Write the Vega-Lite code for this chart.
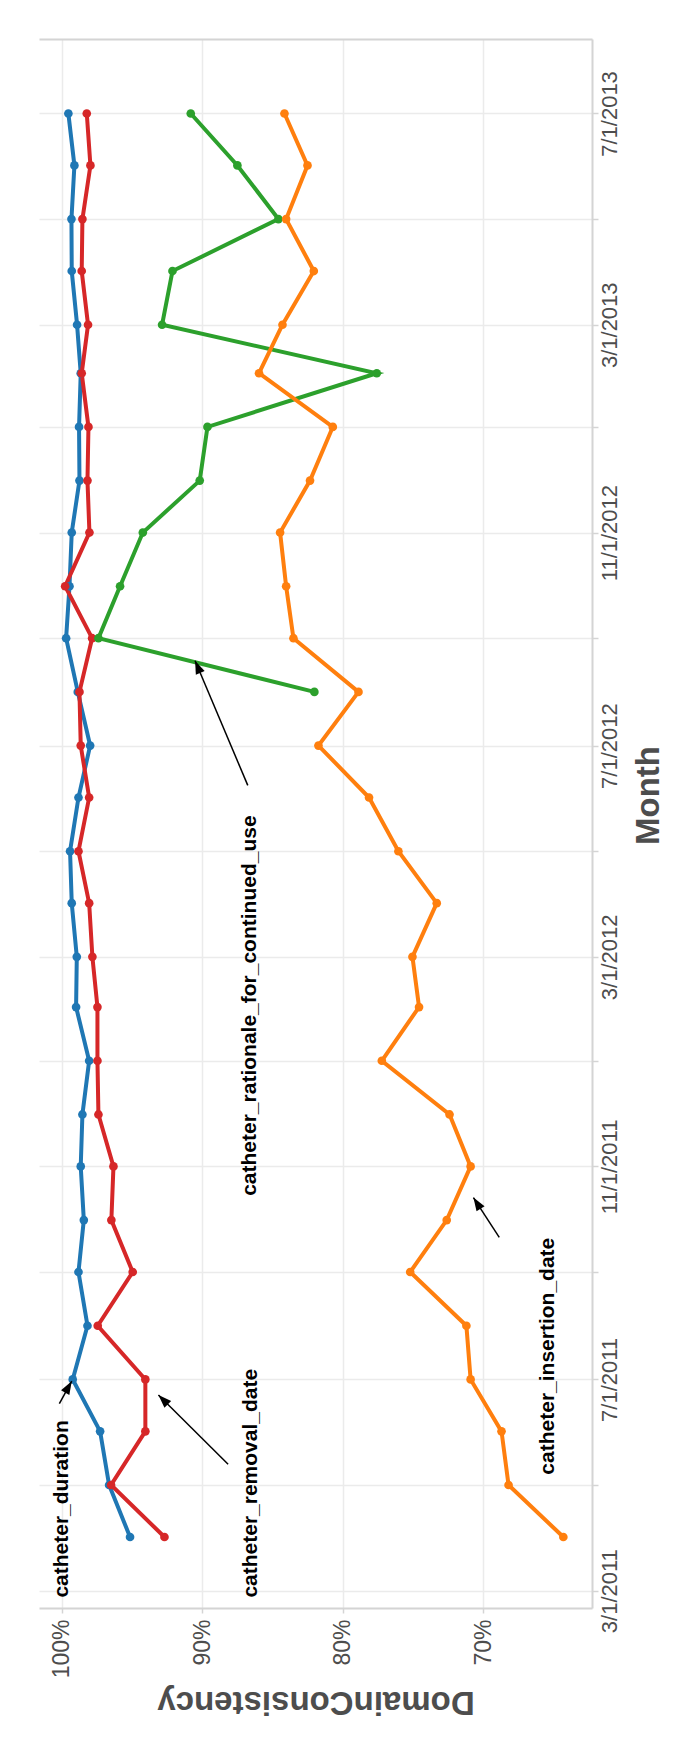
{
  "$schema": "https://vega.github.io/schema/vega-lite/v6.json",
  "width": 553,
  "height": 1569,
  "autosize": {"type": "none"},
  "padding": {"left": 39, "top": 39, "right": 95, "bottom": 154},
  "background": "white",
  "config": {"view": {"stroke": null}, "font": "Liberation Sans"},
  "datasets": {
    "lines": [
      {"series": "catheter_duration", "month": "2011-04-01", "value": 0.9514},
      {"series": "catheter_duration", "month": "2011-05-01", "value": 0.9663},
      {"series": "catheter_duration", "month": "2011-06-01", "value": 0.9727},
      {"series": "catheter_duration", "month": "2011-07-01", "value": 0.9922},
      {"series": "catheter_duration", "month": "2011-08-01", "value": 0.9817},
      {"series": "catheter_duration", "month": "2011-09-01", "value": 0.9881},
      {"series": "catheter_duration", "month": "2011-10-01", "value": 0.9843},
      {"series": "catheter_duration", "month": "2011-11-01", "value": 0.9865},
      {"series": "catheter_duration", "month": "2011-12-01", "value": 0.9853},
      {"series": "catheter_duration", "month": "2012-01-01", "value": 0.9805},
      {"series": "catheter_duration", "month": "2012-02-01", "value": 0.9898},
      {"series": "catheter_duration", "month": "2012-03-01", "value": 0.9893},
      {"series": "catheter_duration", "month": "2012-04-01", "value": 0.9929},
      {"series": "catheter_duration", "month": "2012-05-01", "value": 0.9941},
      {"series": "catheter_duration", "month": "2012-06-01", "value": 0.9881},
      {"series": "catheter_duration", "month": "2012-07-01", "value": 0.9798},
      {"series": "catheter_duration", "month": "2012-08-01", "value": 0.9886},
      {"series": "catheter_duration", "month": "2012-09-01", "value": 0.9969},
      {"series": "catheter_duration", "month": "2012-10-01", "value": 0.9945},
      {"series": "catheter_duration", "month": "2012-11-01", "value": 0.9929},
      {"series": "catheter_duration", "month": "2012-12-01", "value": 0.9874},
      {"series": "catheter_duration", "month": "2013-01-01", "value": 0.9877},
      {"series": "catheter_duration", "month": "2013-02-01", "value": 0.9865},
      {"series": "catheter_duration", "month": "2013-03-01", "value": 0.9891},
      {"series": "catheter_duration", "month": "2013-04-01", "value": 0.9929},
      {"series": "catheter_duration", "month": "2013-05-01", "value": 0.9931},
      {"series": "catheter_duration", "month": "2013-06-01", "value": 0.9910},
      {"series": "catheter_duration", "month": "2013-07-01", "value": 0.9953},
      {"series": "catheter_removal_date", "month": "2011-04-01", "value": 0.9269},
      {"series": "catheter_removal_date", "month": "2011-05-01", "value": 0.9649},
      {"series": "catheter_removal_date", "month": "2011-06-01", "value": 0.9405},
      {"series": "catheter_removal_date", "month": "2011-07-01", "value": 0.9405},
      {"series": "catheter_removal_date", "month": "2011-08-01", "value": 0.9744},
      {"series": "catheter_removal_date", "month": "2011-09-01", "value": 0.9495},
      {"series": "catheter_removal_date", "month": "2011-10-01", "value": 0.9647},
      {"series": "catheter_removal_date", "month": "2011-11-01", "value": 0.9632},
      {"series": "catheter_removal_date", "month": "2011-12-01", "value": 0.9739},
      {"series": "catheter_removal_date", "month": "2012-01-01", "value": 0.9746},
      {"series": "catheter_removal_date", "month": "2012-02-01", "value": 0.9746},
      {"series": "catheter_removal_date", "month": "2012-03-01", "value": 0.9782},
      {"series": "catheter_removal_date", "month": "2012-04-01", "value": 0.9805},
      {"series": "catheter_removal_date", "month": "2012-05-01", "value": 0.9881},
      {"series": "catheter_removal_date", "month": "2012-06-01", "value": 0.9805},
      {"series": "catheter_removal_date", "month": "2012-07-01", "value": 0.9865},
      {"series": "catheter_removal_date", "month": "2012-08-01", "value": 0.9874},
      {"series": "catheter_removal_date", "month": "2012-09-01", "value": 0.9784},
      {"series": "catheter_removal_date", "month": "2012-10-01", "value": 0.9976},
      {"series": "catheter_removal_date", "month": "2012-11-01", "value": 0.9803},
      {"series": "catheter_removal_date", "month": "2012-12-01", "value": 0.9817},
      {"series": "catheter_removal_date", "month": "2013-01-01", "value": 0.9810},
      {"series": "catheter_removal_date", "month": "2013-02-01", "value": 0.9858},
      {"series": "catheter_removal_date", "month": "2013-03-01", "value": 0.9813},
      {"series": "catheter_removal_date", "month": "2013-04-01", "value": 0.9858},
      {"series": "catheter_removal_date", "month": "2013-05-01", "value": 0.9853},
      {"series": "catheter_removal_date", "month": "2013-06-01", "value": 0.9796},
      {"series": "catheter_removal_date", "month": "2013-07-01", "value": 0.9822},
      {"series": "catheter_rationale_for_continued_use", "month": "2012-08-01", "value": 0.8202},
      {"series": "catheter_rationale_for_continued_use", "month": "2012-09-01", "value": 0.9739},
      {"series": "catheter_rationale_for_continued_use", "month": "2012-10-01", "value": 0.9585},
      {"series": "catheter_rationale_for_continued_use", "month": "2012-11-01", "value": 0.9423},
      {"series": "catheter_rationale_for_continued_use", "month": "2012-12-01", "value": 0.9018},
      {"series": "catheter_rationale_for_continued_use", "month": "2013-01-01", "value": 0.8963},
      {"series": "catheter_rationale_for_continued_use", "month": "2013-02-01", "value": 0.7758},
      {"series": "catheter_rationale_for_continued_use", "month": "2013-03-01", "value": 0.9286},
      {"series": "catheter_rationale_for_continued_use", "month": "2013-04-01", "value": 0.9212},
      {"series": "catheter_rationale_for_continued_use", "month": "2013-05-01", "value": 0.8458},
      {"series": "catheter_rationale_for_continued_use", "month": "2013-06-01", "value": 0.8750},
      {"series": "catheter_rationale_for_continued_use", "month": "2013-07-01", "value": 0.9082},
      {"series": "catheter_insertion_date", "month": "2011-04-01", "value": 0.643},
      {"series": "catheter_insertion_date", "month": "2011-05-01", "value": 0.682},
      {"series": "catheter_insertion_date", "month": "2011-06-01", "value": 0.687},
      {"series": "catheter_insertion_date", "month": "2011-07-01", "value": 0.709},
      {"series": "catheter_insertion_date", "month": "2011-08-01", "value": 0.712},
      {"series": "catheter_insertion_date", "month": "2011-09-01", "value": 0.752},
      {"series": "catheter_insertion_date", "month": "2011-10-01", "value": 0.726},
      {"series": "catheter_insertion_date", "month": "2011-11-01", "value": 0.709},
      {"series": "catheter_insertion_date", "month": "2011-12-01", "value": 0.724},
      {"series": "catheter_insertion_date", "month": "2012-01-01", "value": 0.7722},
      {"series": "catheter_insertion_date", "month": "2012-02-01", "value": 0.7457},
      {"series": "catheter_insertion_date", "month": "2012-03-01", "value": 0.7504},
      {"series": "catheter_insertion_date", "month": "2012-04-01", "value": 0.7331},
      {"series": "catheter_insertion_date", "month": "2012-05-01", "value": 0.7604},
      {"series": "catheter_insertion_date", "month": "2012-06-01", "value": 0.7813},
      {"series": "catheter_insertion_date", "month": "2012-07-01", "value": 0.8173},
      {"series": "catheter_insertion_date", "month": "2012-08-01", "value": 0.7888},
      {"series": "catheter_insertion_date", "month": "2012-09-01", "value": 0.8351},
      {"series": "catheter_insertion_date", "month": "2012-10-01", "value": 0.8403},
      {"series": "catheter_insertion_date", "month": "2012-11-01", "value": 0.8446},
      {"series": "catheter_insertion_date", "month": "2012-12-01", "value": 0.8233},
      {"series": "catheter_insertion_date", "month": "2013-01-01", "value": 0.8071},
      {"series": "catheter_insertion_date", "month": "2013-02-01", "value": 0.8596},
      {"series": "catheter_insertion_date", "month": "2013-03-01", "value": 0.8429},
      {"series": "catheter_insertion_date", "month": "2013-04-01", "value": 0.8206},
      {"series": "catheter_insertion_date", "month": "2013-05-01", "value": 0.8403},
      {"series": "catheter_insertion_date", "month": "2013-06-01", "value": 0.8251},
      {"series": "catheter_insertion_date", "month": "2013-07-01", "value": 0.8415}
    ],
    "labels": [
      {"label": "catheter_duration", "month": "2011-02-25", "value": 1.0},
      {"label": "catheter_removal_date", "month": "2011-02-25", "value": 0.8652},
      {"label": "catheter_insertion_date", "month": "2011-05-07", "value": 0.654},
      {"label": "catheter_rationale_for_continued_use", "month": "2011-10-15", "value": 0.8659}
    ],
    "arrows": [
      {"arrow": "duration", "month": "2011-06-17", "value": 1.0017, "month2": "2011-06-30", "value2": 0.9929},
      {"arrow": "removal", "month": "2011-05-13", "value": 0.8816, "month2": "2011-06-22", "value2": 0.9312},
      {"arrow": "insertion", "month": "2011-09-21", "value": 0.6886, "month2": "2011-10-14", "value2": 0.7070},
      {"arrow": "rationale", "month": "2012-06-08", "value": 0.8676, "month2": "2012-08-19", "value2": 0.9051}
    ]
  },
  "resolve": {"axis": {"x": "independent", "y": "independent"}},
  "layer": [
    {
      "data": {"name": "lines"},
      "mark": {"type": "line", "strokeWidth": 4, "point": {"filled": true, "size": 75, "opacity": 1}},
      "encoding": {
        "x": {
          "field": "value", "type": "quantitative",
          "scale": {"domain": [0.6226, 1.0162], "reverse": true, "nice": false, "zero": false},
          "axis": {
            "orient": "bottom", "title": "DomainConsistency", "values": [0.7, 0.8, 0.9, 1.0], "format": ".0%",
            "labelAngle": 270, "labelAlign": "right", "labelBaseline": "middle", "labelFontSize": 23,
            "labelColor": "#4d4d4d", "labelPadding": 6, "tickSize": 5, "tickColor": "#d4d4d4", "tickWidth": 1.5,
            "domainColor": "#d4d4d4", "domainWidth": 2, "gridColor": "#ebebeb", "gridWidth": 1.5,
            "titleAngle": 180, "titleBaseline": "bottom", "titleFontSize": 33, "titleFontWeight": "bold",
            "titleColor": "#4d4d4d", "titlePadding": 7, "labelFlush": false, "labelOverlap": false
          }
        },
        "y": {
          "field": "month", "type": "temporal",
          "scale": {"type": "utc", "nice": false,
            "domain": [{"year": 2011, "month": 2, "date": 19, "utc": true}, {"year": 2013, "month": 8, "date": 13, "utc": true}]},
          "axis": {
            "orient": "right", "title": "Month", "tickCount": {"interval": "month", "step": 2},
            "labelExpr": "utcmonth(datum.value) % 4 == 2 ? utcFormat(datum.value, '%-m/%-d/%Y') : ''",
            "labelAngle": 270, "labelAlign": "center", "labelBaseline": "top", "labelFontSize": 22,
            "labelColor": "#4d4d4d", "labelPadding": 1, "tickSize": 6, "tickColor": "#d4d4d4", "tickWidth": 1.5,
            "domainColor": "#d4d4d4", "domainWidth": 2, "gridColor": "#ebebeb", "gridWidth": 1.5,
            "titleAngle": 270, "titleBaseline": "top", "titleFontSize": 33, "titleFontWeight": "bold",
            "titleColor": "#4d4d4d", "titlePadding": 12, "titleY": 756, "labelFlush": false, "labelOverlap": false
          }
        },
        "color": {
          "field": "series", "type": "nominal", "legend": null,
          "scale": {
            "domain": ["catheter_duration", "catheter_insertion_date", "catheter_rationale_for_continued_use", "catheter_removal_date"],
            "range": ["#1f77b4", "#ff7f0e", "#2ca02c", "#d62728"]
          }
        },
        "order": {"field": "month", "type": "temporal"}
      }
    },
    {
      "data": {"name": "arrows"},
      "mark": {"type": "rule", "color": "black", "strokeWidth": 1.5},
      "encoding": {
        "x": {"field": "value", "type": "quantitative", "axis": null},
        "x2": {"field": "value2"},
        "y": {"field": "month", "type": "temporal", "axis": null},
        "y2": {"field": "month2"}
      }
    },
    {
      "data": {"name": "arrows"},
      "transform": [{"filter": "datum.arrow == 'duration'"}],
      "mark": {"type": "point", "shape": "M0,0L0.36,1L-0.36,1Z", "size": 700, "filled": true, "color": "black", "strokeWidth": 0, "opacity": 1, "angle": 29.7},
      "encoding": {
        "x": {"field": "value2", "type": "quantitative", "axis": null},
        "y": {"field": "month2", "type": "temporal", "axis": null}
      }
    },
    {
      "data": {"name": "arrows"},
      "transform": [{"filter": "datum.arrow == 'removal'"}],
      "mark": {"type": "point", "shape": "M0,0L0.36,1L-0.36,1Z", "size": 700, "filled": true, "color": "black", "strokeWidth": 0, "opacity": 1, "angle": 314.8},
      "encoding": {
        "x": {"field": "value2", "type": "quantitative", "axis": null},
        "y": {"field": "month2", "type": "temporal", "axis": null}
      }
    },
    {
      "data": {"name": "arrows"},
      "transform": [{"filter": "datum.arrow == 'insertion'"}],
      "mark": {"type": "point", "shape": "M0,0L0.36,1L-0.36,1Z", "size": 700, "filled": true, "color": "black", "strokeWidth": 0, "opacity": 1, "angle": 327.4},
      "encoding": {
        "x": {"field": "value2", "type": "quantitative", "axis": null},
        "y": {"field": "month2", "type": "temporal", "axis": null}
      }
    },
    {
      "data": {"name": "arrows"},
      "transform": [{"filter": "datum.arrow == 'rationale'"}],
      "mark": {"type": "point", "shape": "M0,0L0.36,1L-0.36,1Z", "size": 700, "filled": true, "color": "black", "strokeWidth": 0, "opacity": 1, "angle": 337.1},
      "encoding": {
        "x": {"field": "value2", "type": "quantitative", "axis": null},
        "y": {"field": "month2", "type": "temporal", "axis": null}
      }
    },
    {
      "data": {"name": "labels"},
      "mark": {"type": "text", "angle": 270, "align": "left", "baseline": "middle", "fontSize": 21, "fontWeight": "bold", "color": "black", "font": "Liberation Sans"},
      "encoding": {
        "x": {
          "field": "value", "type": "quantitative",
          "axis": {"orient": "top", "labels": false, "ticks": false, "grid": false, "domain": true, "domainColor": "#d4d4d4", "domainWidth": 2, "title": null}
        },
        "y": {"field": "month", "type": "temporal", "axis": null},
        "text": {"field": "label"}
      }
    }
  ]
}
